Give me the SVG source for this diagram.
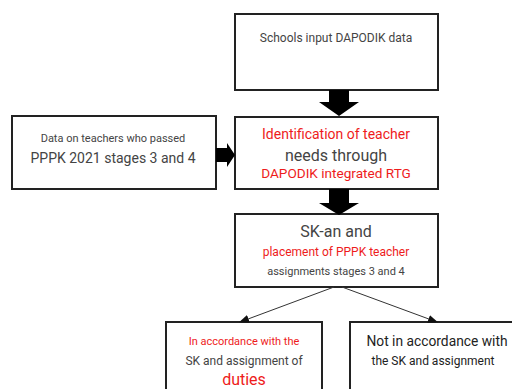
<svg xmlns="http://www.w3.org/2000/svg" width="512" height="389" viewBox="0 0 512 389">
<style>
.box{fill:#fff;stroke:#222;stroke-width:2}
text{font-family:Roboto,"Liberation Sans",sans-serif;text-anchor:middle}
.g{fill:#444}
.r{fill:#ee1c1c}
.blk{fill:#000}
.ln{stroke:#333;stroke-width:1;fill:none;marker-end:url(#ah)}
</style>
<defs>
<marker id="ah" markerWidth="10" markerHeight="8" refX="9" refY="4" orient="auto" markerUnits="userSpaceOnUse">
<path d="M0,0 L10,4 L0,8 Z" fill="#111"/>
</marker>
</defs>
<g id="n1">
<rect class="box" x="235" y="14" width="203" height="76"/>
<text class="g" x="336" y="42" font-size="12">Schools input DAPODIK data</text>
</g>
<g id="n2">
<rect class="box" x="12" y="116" width="204" height="73"/>
<text class="g" x="113" y="142" font-size="11">Data on teachers who passed</text>
<text class="g" x="113" y="163" font-size="14">PPPK 2021 stages 3 and 4</text>
</g>
<g id="n3">
<rect class="box" x="235" y="117" width="203" height="72"/>
<text class="r" x="336" y="139" font-size="14">Identification of teacher</text>
<text class="g" x="336" y="161" font-size="16">needs through</text>
<text class="r" x="336" y="178" font-size="13.6">DAPODIK integrated RTG</text>
</g>
<g id="n4">
<rect class="box" x="235" y="214" width="203" height="73"/>
<text class="g" x="336" y="237" font-size="16">SK-an and</text>
<text class="r" x="336" y="256" font-size="12">placement of PPPK teacher</text>
<text class="g" x="336" y="275" font-size="11">assignments stages 3 and 4</text>
</g>
<g id="n5">
<rect class="box" x="166" y="322" width="156" height="80"/>
<text class="r" x="244" y="345" font-size="11">In accordance with the</text>
<text class="g" x="244" y="365" font-size="12">SK and assignment of</text>
<text class="r" x="244" y="385" font-size="16">duties</text>
</g>
<g id="n6">
<rect class="box" x="350" y="322" width="170" height="80"/>
<text x="437" y="346" font-size="13.8" fill="#222">Not in accordance with</text>
<text x="433" y="365" font-size="12" fill="#222">the SK and assignment</text>
</g>
<g id="connectors">
<path class="blk" d="M329,90 L349,90 L349,102 L359,102 L339,116 L319,102 L329,102 Z"/>
<path class="blk" d="M329,189 L349,189 L349,203 L359,203 L339,215 L319,203 L329,203 Z"/>
<path class="blk" d="M216,148 L227,148 L227,143 L235,155 L227,167 L227,162 L216,162 Z"/>
<line class="ln" x1="334" y1="287" x2="240" y2="322"/>
<line class="ln" x1="342" y1="287" x2="437" y2="322"/>
</g>
</svg>
